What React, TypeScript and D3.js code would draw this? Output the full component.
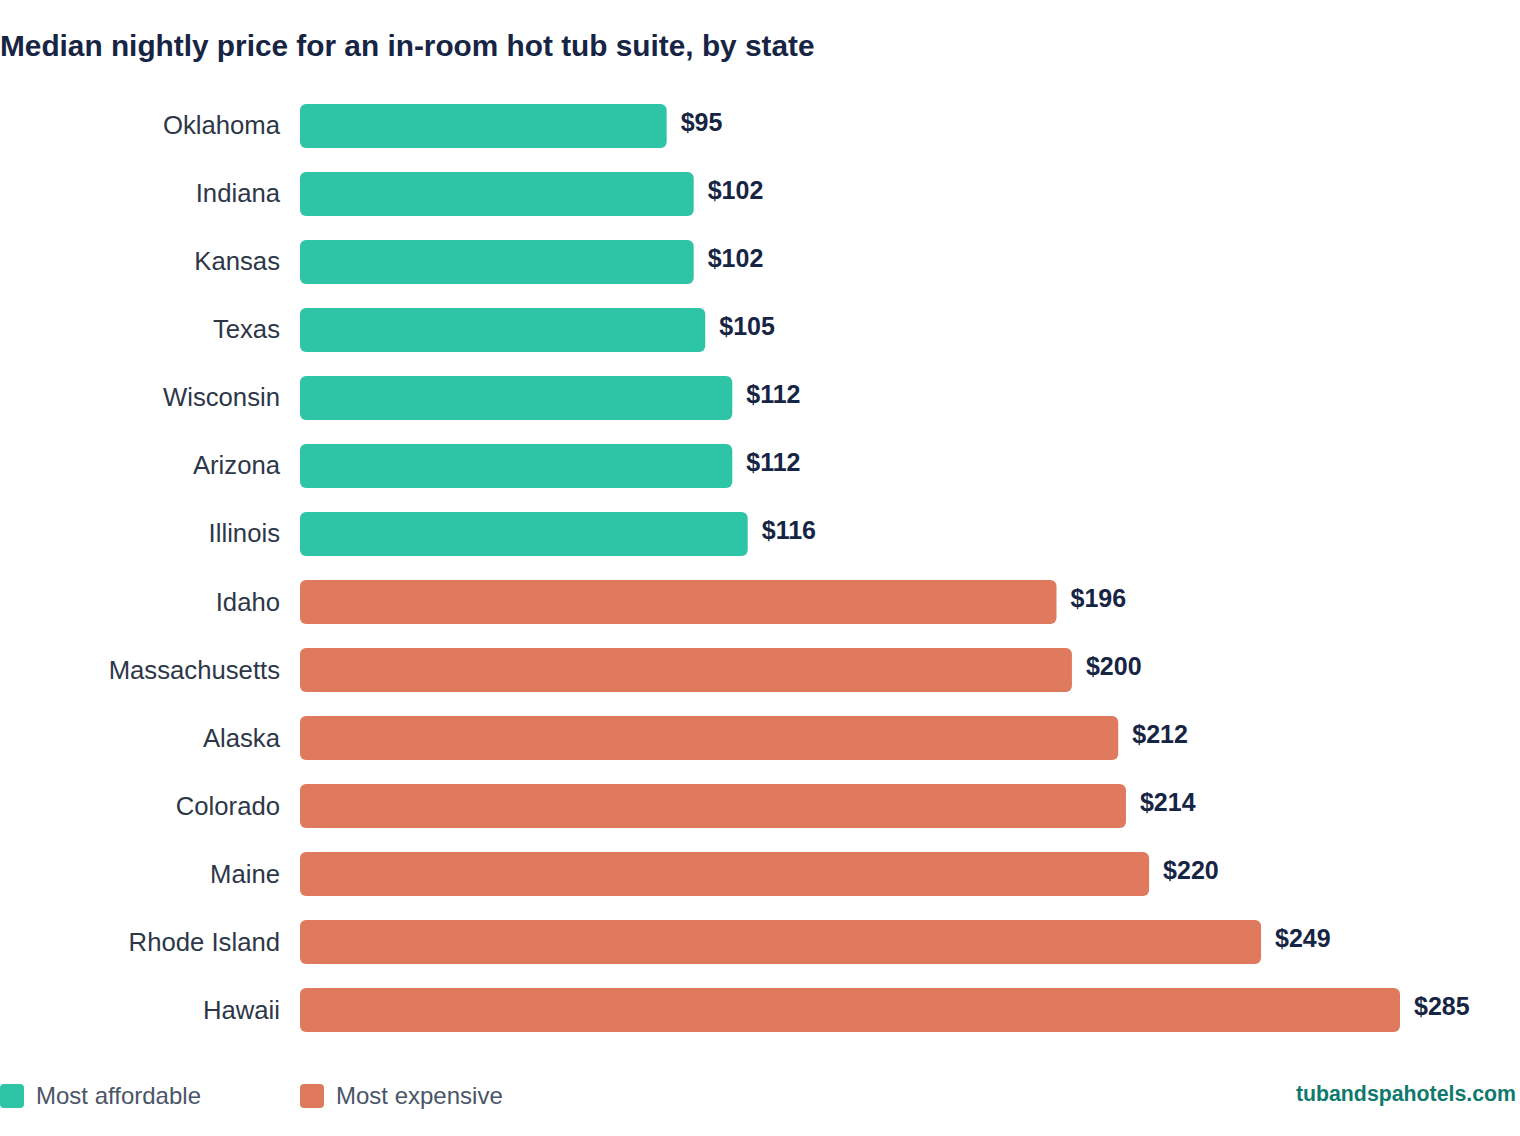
import { useEffect } from 'react';
import * as d3 from 'd3';

const states = [
    'Oklahoma',
    'Indiana',
    'Kansas',
    'Texas',
    'Wisconsin',
    'Arizona',
    'Illinois',
    'Idaho',
    'Massachusetts',
    'Alaska',
    'Colorado',
    'Maine',
    'Rhode Island',
    'Hawaii',
];
const prices = [95, 102, 102, 105, 112, 112, 116, 196, 200, 212, 214, 220, 249, 285];
const groups = ['affordable', 'affordable', 'affordable', 'affordable', 'affordable', 'affordable', 'affordable', 'expensive', 'expensive', 'expensive', 'expensive', 'expensive', 'expensive', 'expensive'];
const legendLabels = ['Most affordable', 'Most expensive'];

const WIDTH = 1520;
const HEIGHT = 1136;
const FONT = '"Liberation Sans", Arial, sans-serif';
const TEAL = '#2ec4a6';
const ORANGE = '#e07a5f';
const NAVY = '#172544';

export default function App() {
    useEffect(() => {
        document.body.style.margin = '0';
    }, []);

    const x = d3.scaleLinear().domain([0, 285]).range([300, 1400]);
    const y = d3.scaleBand<string>().domain(states).range([104, 1032]).paddingInner(0.353).paddingOuter(0);
    const color = d3.scaleOrdinal<string, string>().domain(['affordable', 'expensive']).range([TEAL, ORANGE]);
    const rows = states.map((state, i) => ({ state, price: prices[i], group: groups[i] }));

    return (
        <svg width={WIDTH} height={HEIGHT} style={{ display: 'block', fontFamily: FONT }}>
            <rect width={WIDTH} height={HEIGHT} fill="#ffffff" />
            <text x={0} y={56} fontSize={29.8} fontWeight={700} fill={NAVY}>
                Median nightly price for an in-room hot tub suite, by state
            </text>
            {rows.map((d) => {
                const top = y(d.state) ?? 0;
                const mid = top + y.bandwidth() / 2;
                return (
                    <g key={d.state}>
                        <text x={280} y={mid + 8.5} textAnchor="end" fontSize={25.7} fill="#2d3748">
                            {d.state}
                        </text>
                        <rect
                            x={x(0)}
                            y={top}
                            width={x(d.price) - x(0)}
                            height={y.bandwidth()}
                            rx={6}
                            fill={color(d.group)}
                        />
                        <text x={x(d.price) + 14} y={mid + 5} fontSize={25} fontWeight={700} fill={NAVY}>
                            ${d.price}
                        </text>
                    </g>
                );
            })}
            {legendLabels.map((label, i) => (
                <g key={label} transform={`translate(${i * 300}, 1084)`}>
                    <rect width={24} height={24} rx={4} fill={i === 0 ? TEAL : ORANGE} />
                    <text x={36} y={20} fontSize={24} fill="#4a5568">
                        {label}
                    </text>
                </g>
            ))}
            <text x={1516} y={1101} textAnchor="end" fontSize={21.3} fontWeight={700} fill="#0f7a6c">
                tubandspahotels.com
            </text>
        </svg>
    );
}
